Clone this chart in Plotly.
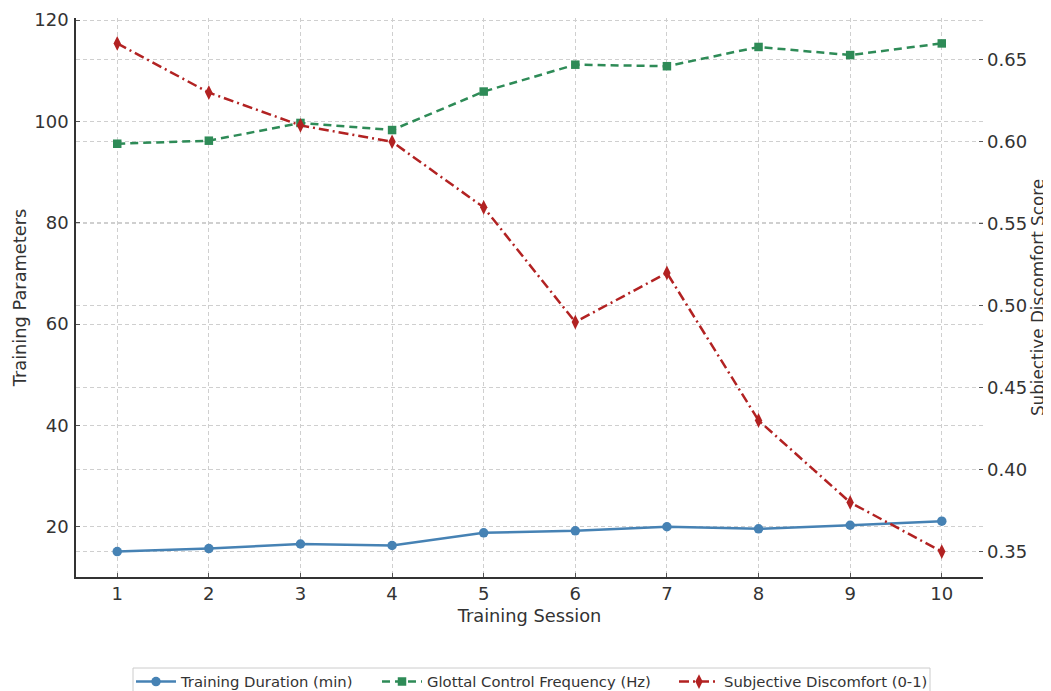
import plotly.graph_objects as go

sessions = [1, 2, 3, 4, 5, 6, 7, 8, 9, 10]
duration = [15.1, 15.7, 16.6, 16.3, 18.8, 19.2, 20.0, 19.6, 20.3, 21.1]
glottal = [95.6, 96.2, 99.7, 98.3, 105.9, 111.2, 110.9, 114.7, 113.1, 115.4]
discomfort = [0.66, 0.63, 0.61, 0.60, 0.56, 0.49, 0.52, 0.43, 0.38, 0.35]

left_ticks = [20, 40, 60, 80, 100, 120]
right_ticks = [0.35, 0.40, 0.45, 0.50, 0.55, 0.60, 0.65]

def padded(vals, frac=0.05):
    lo, hi = min(vals), max(vals)
    s = hi - lo
    return [lo - frac * s, hi + frac * s]

left_range = padded(duration + glottal)
right_range = padded(discomfort)
x_range = padded(sessions)

FONT = "DejaVu Sans"
TXT = "#333333"
GRID = "#cfcfcf"

# the page body has an 8px default margin: size the figure so it fits the window
OFF = 8
WIN_W, WIN_H = 1051, 691
W, H = WIN_W - OFF, WIN_H - OFF
# plot area in window pixels: x 76..983, y 18..577
PL, PR, PT, PB = 76, 983, 18, 577
ML, MR, MT, MB = PL - OFF, WIN_W - PR, PT - OFF, WIN_H - PB
PW, PH = PR - PL, PB - PT

def px_x(px):
    return (px - PL) / PW

def px_y(py):
    return (PB - py) / PH

fig = go.Figure()
fig.add_trace(go.Scatter(
    x=sessions, y=duration, name="Training Duration (min)", mode="lines+markers",
    line=dict(color="#4682B4", width=2.5),
    marker=dict(symbol="circle", size=9.5, color="#4682B4"),
    legend="legend",
))
fig.add_trace(go.Scatter(
    x=sessions, y=glottal, name="Glottal Control Frequency (Hz)", mode="lines+markers",
    line=dict(color="#2E8B57", width=2.5, dash="8px,5px"),
    marker=dict(symbol="square", size=8.5, color="#2E8B57"),
    legend="legend2",
))
fig.add_trace(go.Scatter(
    x=sessions, y=discomfort, name="Subjective Discomfort (0-1)", mode="lines+markers",
    line=dict(color="#B22222", width=2.5, dash="10px,4px,2px,4px"),
    marker=dict(symbol="diamond-tall", size=10.5, color="#B22222"),
    yaxis="y2",
    legend="legend3",
))

leg_common = dict(
    orientation="h", yanchor="middle", y=px_y(682),
    font=dict(size=14.8, color=TXT, family=FONT), bgcolor="rgba(0,0,0,0)",
    borderwidth=0, itemwidth=40,
)

fig.add_shape(
    type="rect", xref="paper", yref="paper",
    x0=px_x(133), x1=px_x(930), y0=px_y(668), y1=px_y(705),
    line=dict(color="#cccccc", width=1), fillcolor="white", layer="below",
)

fig.update_layout(
    width=W, height=H,
    margin=dict(l=ML, r=MR, t=MT, b=MB, autoexpand=False),
    paper_bgcolor="white", plot_bgcolor="white",
    font=dict(family=FONT, color=TXT, size=17),
    showlegend=True,
    legend=dict(x=px_x(131), xanchor="left", **leg_common),
    legend2=dict(x=px_x(377), xanchor="left", **leg_common),
    legend3=dict(x=px_x(674), xanchor="left", **leg_common),
    xaxis=dict(
        range=x_range, tickmode="array", tickvals=sessions,
        ticks="inside", ticklen=4, tickcolor="#555555",
        showline=True, linecolor="#333333", linewidth=1.6,
        showgrid=True, gridcolor=GRID, griddash="4px,3px", gridwidth=0.8,
        zeroline=False, automargin=False,
        title=dict(text="Training Session", font=dict(size=17.8), standoff=6),
        tickfont=dict(size=18),
    ),
    yaxis=dict(
        range=left_range, tickmode="array", tickvals=left_ticks,
        ticks="inside", ticklen=4, tickcolor="#555555",
        showline=True, linecolor="#333333", linewidth=1.6,
        showgrid=True, gridcolor=GRID, griddash="4px,3px", gridwidth=0.8,
        zeroline=False, automargin=False, ticklabelstandoff=2,
        title=dict(text="Training Parameters", font=dict(size=17.8), standoff=3),
        tickfont=dict(size=18),
    ),
    yaxis2=dict(
        range=right_range, overlaying="y", side="right",
        tickmode="array", tickvals=right_ticks, tickformat=".2f",
        ticks="inside", ticklen=4, tickcolor="#555555",
        showline=False, automargin=False, ticklabelstandoff=3,
        showgrid=True, gridcolor=GRID, griddash="4px,3px", gridwidth=0.8,
        zeroline=False,
        title=dict(text="Subjective Discomfort Score", font=dict(size=16.8), standoff=6),
        tickfont=dict(size=18),
    ),
)

fig.write_html("out.html")
